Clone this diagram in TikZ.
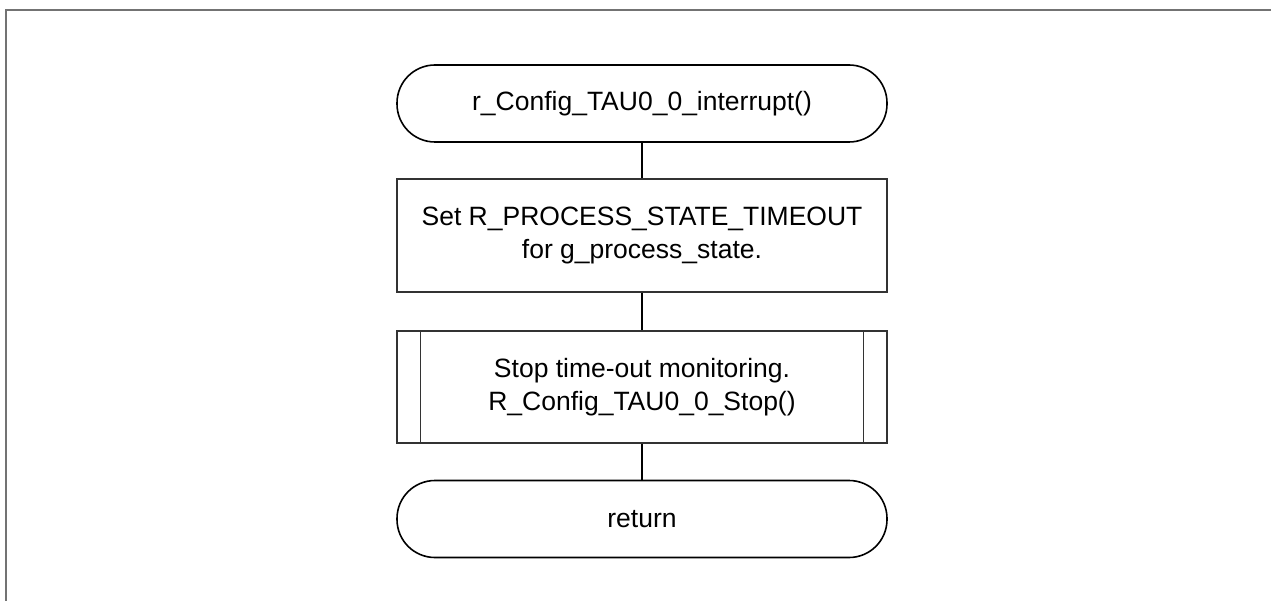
\documentclass[tikz,border=0pt]{standalone}
\usepackage{fontspec}
\setmainfont{Liberation Sans}
\begin{document}
\begin{tikzpicture}[x=1pt,y=-1pt,
  every node/.style={font=\fontsize{26.5}{33}\selectfont, align=center, inner sep=0pt},
  term/.style={draw=black, line width=1.6pt, rectangle, rounded corners=38pt, minimum width=490pt, minimum height=77pt},
  procbox/.style={draw=black!80, line width=1.2pt, rectangle, minimum width=490pt, minimum height=113pt},
  predef/.style={draw=black!80, line width=1.2pt, rectangle, minimum width=490pt, minimum height=112pt},
  conn/.style={draw=black, line width=2pt},
  frameline/.style={draw=black!55, line width=2pt}
]
\useasboundingbox (0,0) rectangle (1271,601);
\coordinate (fa) at (1271,10);
\coordinate (fb) at (6,10);
\coordinate (fc) at (6,601);
\draw[frameline] (fa) -- (fb) -- (fc);

\node[term] (start) at (642,103.5) {r\_Config\_TAU0\_0\_interrupt()};
\node[procbox] (set) at (642,235.5) {Set R\_PROCESS\_STATE\_TIMEOUT\\for g\_process\_state.};
\node[predef] (stop) at (642,387) {Stop time-out monitoring.\\R\_Config\_TAU0\_0\_Stop()};
\draw[draw=black!80, line width=1.2pt] ([xshift=24pt]stop.north west) -- ([xshift=24pt]stop.south west);
\draw[draw=black!80, line width=1.2pt] ([xshift=-24pt]stop.north east) -- ([xshift=-24pt]stop.south east);
\node[term] (ret) at (642,519) {return};

\draw[conn] (start) -- (set);
\draw[conn] (set) -- (stop);
\draw[conn] (stop) -- (ret);
\end{tikzpicture}
\end{document}
